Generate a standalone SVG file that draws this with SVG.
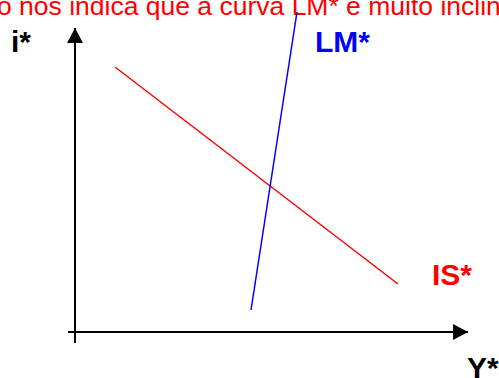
<svg xmlns="http://www.w3.org/2000/svg" width="499" height="378" viewBox="0 0 499 378">
<style>
.lbl{font-family:"Liberation Sans",Arial,sans-serif;font-weight:bold;font-size:30px}
</style>
<defs>
<marker id="ah" markerWidth="16" markerHeight="16" refX="15" refY="8" orient="auto" markerUnits="userSpaceOnUse">
<path d="M0,0 L15,8 L0,16 Z" fill="#000"/>
</marker>
</defs>
<rect width="499" height="378" fill="#fff"/>
<text x="-3" y="15" font-family="Liberation Sans,Arial,sans-serif" font-size="26.5" fill="#ff0000">o nos indica que a curva LM* é muito inclin</text>
<g id="connectors">
<line x1="75" y1="343" x2="75" y2="28" stroke="#000" stroke-width="2" marker-end="url(#ah)"/>
<line x1="68" y1="332" x2="468" y2="332" stroke="#000" stroke-width="2" marker-end="url(#ah)"/>
</g>
<g id="IS">
<line x1="115" y1="67" x2="398" y2="284" stroke="#ff0000" stroke-width="1.5"/>
<text class="lbl" x="432" y="285" fill="#ff0000">IS*</text>
</g>
<g id="LM">
<line x1="297" y1="12" x2="251" y2="310" stroke="#0000ff" stroke-width="1.5"/>
<text class="lbl" x="315" y="52" fill="#0000ff">LM*</text>
</g>
<g id="i-label"><text class="lbl" x="11" y="52" fill="#000">i*</text></g>
<g id="y-label"><text class="lbl" x="467" y="378" fill="#000">Y*</text></g>
</svg>
